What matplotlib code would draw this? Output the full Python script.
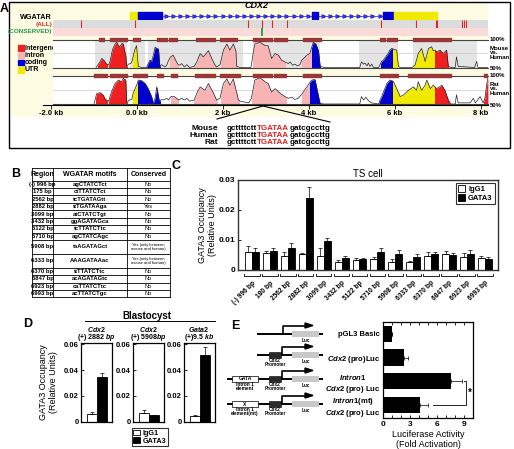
import numpy as np
import matplotlib
matplotlib.use("Agg")
import matplotlib.pyplot as plt
from matplotlib.patches import Rectangle, Polygon

plt.rcParams['font.family'] = ['Liberation Sans', 'DejaVu Sans']
plt.rcParams['font.weight'] = 'bold'
plt.rcParams['mathtext.fontset'] = 'custom'
plt.rcParams['mathtext.it'] = 'Liberation Sans:italic:bold'
plt.rcParams['mathtext.rm'] = 'Liberation Sans:bold'

# ---------------- A: VISTA plot ----------------
# mouse vs human conservation (kb, % identity)
mh_kb = [-0.95, -0.88, -0.82, -0.77, -0.74, -0.71, -0.66, -0.63, -0.57, -0.51, -0.47, -0.43, -0.40, -0.35,
         -0.32, -0.26, -0.24, -0.20, -0.15, -0.12, -0.05, -0.01, 0.03, 0.10, 0.22, 0.26, 0.30, 0.34, 0.38,
         0.42, 0.47, 0.50, 0.53, 0.57, 0.65, 0.69, 0.73, 0.78, 0.84, 0.88, 0.92, 0.96, 1.00, 1.04, 1.10,
         1.16, 1.22, 1.33, 1.39, 1.47, 1.54, 1.60, 1.66, 1.74, 1.81, 1.85, 1.93, 2.01, 2.09, 2.16, 2.24,
         2.30, 2.32, 2.40, 2.65, 2.71, 2.74, 2.86, 2.98, 3.05, 3.13, 3.21, 3.29, 3.36, 3.44, 3.52, 3.56,
         3.62, 3.67, 3.73, 3.79, 3.83, 3.95, 4.02, 4.10, 4.16, 4.22, 4.26, 4.35, 5.18, 5.22, 5.27, 5.30,
         5.35, 5.38, 5.42, 5.46, 5.50, 5.62, 5.69, 5.73, 5.81, 5.84, 5.88, 5.92, 5.96, 6.04, 6.08, 6.12,
         6.40, 6.47, 6.54, 6.62, 6.70, 6.78, 6.85, 6.89, 6.93, 6.97, 7.05, 7.12, 7.20, 7.24, 7.30, 7.40,
         7.43, 7.47, 7.85, 7.90, 7.93, 8.16]
mh_pct = [50, 58, 66, 63, 60, 56, 55, 60, 82, 92, 95, 89, 87, 93,
          92, 70, 52, 56, 57, 60, 82, 89, 52, 50, 50, 57, 63, 61, 72,
          86, 84, 83, 52, 55, 51, 54, 62, 69, 72, 66, 60, 55, 54, 57, 51,
          55, 50, 52, 60, 75, 69, 74, 80, 66, 55, 51, 55, 81, 92, 81, 92,
          80, 52, 50, 50, 80, 92, 95, 89, 89, 66, 75, 72, 63, 60, 57, 60,
          54, 56, 53, 55, 63, 72, 75, 95, 92, 80, 52, 50, 50, 60, 56, 58,
          53, 58, 52, 56, 50, 50, 61, 63, 72, 75, 81, 84, 83, 81, 52, 50,
          50, 55, 75, 84, 61, 84, 87, 80, 81, 78, 81, 75, 81, 52, 50, 50,
          69, 52, 50, 61, 50, 50]
mh_regions = [(-0.90, -0.70, 'intergene'), (-0.64, -0.24, 'intergene'), (-0.10, 0.02, 'UTR'),
              (0.24, 0.53, 'coding'), (0.76, 0.95, 'intron'), (1.33, 1.83, 'intron'),
              (1.95, 2.32, 'intron'), (2.70, 3.45, 'intron'), (3.83, 4.08, 'intron'),
              (4.08, 4.26, 'coding'), (5.67, 5.96, 'coding'), (5.96, 6.08, 'UTR'),
              (6.45, 6.93, 'UTR'), (6.93, 7.24, 'intergene')]
mh_shaded = [(-0.98, -0.23), (-0.16, 0.19), (0.26, 2.47), (2.70, 4.26), (5.16, 6.07), (6.42, 7.90)]
mh_cns = [(-0.88, -0.77), (-0.63, -0.23), (-0.09, 0.07), (0.47, 0.70), (0.74, 0.93), (1.37, 1.81),
          (1.93, 2.33), (2.70, 3.14), (3.19, 3.49), (3.86, 4.28), (5.65, 5.77), (5.81, 6.05), (6.42, 7.30)]

# rat vs human conservation
rh_kb = [-1.00, -0.94, -0.86, -0.79, -0.74, -0.71, -0.66, -0.59, -0.51, -0.43, -0.36, -0.32, -0.26, -0.24,
         -0.18, -0.12, -0.09, -0.01, 0.03, 0.11, 0.19, 0.26, 0.34, 0.38, 0.42, 0.46, 0.52, 0.57, 0.62,
         0.69, 0.73, 0.79, 0.87, 0.92, 0.97, 1.04, 1.10, 1.16, 1.22, 1.33, 1.39, 1.47, 1.58, 1.66, 1.78,
         1.85, 1.93, 2.01, 2.09, 2.16, 2.24, 2.36, 2.40, 2.60, 2.66, 2.74, 2.86, 2.98, 3.05, 3.13, 3.21,
         3.33, 3.44, 3.52, 3.60, 3.67, 3.75, 3.83, 3.95, 4.06, 4.14, 4.24, 4.26, 4.35, 5.18, 5.22, 5.27,
         5.32, 5.38, 5.45, 5.62, 5.65, 5.69, 5.81, 5.88, 5.96, 6.04, 6.12, 6.20, 6.31, 6.43, 6.50, 6.54,
         6.62, 6.70, 6.74, 6.82, 6.89, 6.97, 7.09, 7.16, 7.24, 7.30, 7.40, 7.43, 7.47, 7.75, 7.82, 7.87,
         7.98, 8.05, 8.09, 8.14, 8.16]
rh_pct = [50, 68, 70, 66, 59, 57, 55, 72, 86, 92, 89, 95, 92, 52,
          57, 58, 69, 83, 92, 91, 86, 77, 63, 51, 60, 80, 55, 58, 57,
          60, 57, 63, 63, 60, 57, 60, 57, 60, 55, 57, 69, 80, 74, 86, 69,
          57, 60, 86, 94, 83, 94, 57, 55, 52, 60, 92, 96, 89, 86, 71, 77,
          69, 63, 60, 62, 58, 60, 67, 80, 92, 93, 57, 51, 50, 50, 63, 57,
          62, 56, 52, 50, 57, 63, 86, 92, 90, 77, 63, 66, 74, 80, 74, 89,
          74, 83, 92, 77, 83, 77, 83, 74, 57, 50, 50, 66, 52, 52, 60, 52,
          63, 52, 60, 88, 95]
rh_regions = [(-0.96, -0.70, 'intergene'), (-0.64, -0.24, 'intergene'), (-0.10, 0.02, 'UTR'),
              (0.02, 0.38, 'coding'), (0.40, 0.53, 'coding'), (0.78, 0.95, 'intron'),
              (1.33, 1.85, 'intron'), (1.95, 2.38, 'intron'), (2.68, 3.47, 'intron'),
              (3.83, 4.03, 'intron'), (4.03, 4.26, 'coding'), (5.63, 5.96, 'coding'),
              (5.96, 6.93, 'UTR'), (6.93, 7.26, 'intergene'), (8.07, 8.17, 'intergene')]
rh_cns = [(-0.99, -0.70), (-0.63, -0.23), (-0.09, 0.23), (0.47, 0.60), (0.79, 0.93), (1.35, 1.81),
          (1.93, 2.40), (2.70, 3.14), (3.19, 3.47), (3.86, 4.28), (5.65, 5.77), (5.79, 6.07),
          (6.30, 7.30), (8.07, 8.14)]

gata_all = [-1.30, -0.05, 2.59, 2.90, 3.13, 3.48, 5.67, 6.48, 6.95, 6.98, 7.55, 7.60, 7.64]
gata_conserved = [2.90]
exons = [(-0.16, 0.03, 'UTR'), (0.03, 0.57, 'coding'), (4.06, 4.22, 'coding'),
         (5.71, 5.98, 'coding'), (5.98, 6.97, 'UTR')]
introns = [(0.57, 4.06), (4.22, 5.71)]
kb_ticks = [-2, 0, 2, 4, 6, 8]
kb_labels = ['-2.0 kb', '0.0 kb', '2 kb', '4 kb', '6 kb', '8 kb']
region_colors = {'intergene': '#ee2020', 'intron': '#f8b4b4', 'coding': '#0000d0', 'UTR': '#f0ea00'}

species = ['Mouse', 'Human', 'Rat']
seq_left, seq_site, seq_right = 'gcttttctt', 'TGATAA', 'gatcgccttg'

# ---------------- B: table ----------------
tab_region = ['(-) 996 bp', '175 bp', '2562 bp', '2882 bp', '3099 bp', '3432 bp', '5122 bp',
              '5710 bp', '5908 bp', '6333 bp', '6370 bp', '6847 bp', '6923 bp', '6993 bp']
tab_motif = ['agCTATCTct', 'ctTTATCTct', 'tcTGATAGtt', 'ttTGATAAga', 'atCTATCTgt', 'ggAGATAGca',
             'tcTTATCTtc', 'agCTATCAgc', 'taAGATAGct', 'AAAGATAAac', 'ttTTATCTtc', 'acAGATAGtc',
             'caTTATCTtc', 'acTTATCTgc']
tab_cons = ['No', 'No', 'No', 'Yes', 'No', 'No', 'No', 'No',
            'Yes (only between\nmouse and human)', 'Yes (only between\nmouse and human)',
            'No', 'No', 'No', 'No']

# ---------------- C: TS cell ChIP ----------------
c_sites = ['(-) 996 bp', '180 bp', '2562 bp', '2882 bp', '3099 bp', '3432 bp', '5122 bp',
           '5710 bp', '5908 bp', '6333 bp', '6370 bp', '6847 bp', '6923 bp', '6993 bp']
c_igg = [0.0061, 0.0056, 0.0047, 0.0055, 0.0047, 0.0028, 0.0033, 0.0037, 0.0028, 0.0026, 0.0047, 0.0052, 0.0044, 0.0041]
c_igg_err = [0.0019, 0.0009, 0.0014, 0.0003, 0.0025, 0.0005, 0.0006, 0.0008, 0.0008, 0.0004, 0.0014, 0.0012, 0.0013, 0.0006]
c_gata = [0.0060, 0.0063, 0.0072, 0.0241, 0.0097, 0.0039, 0.0037, 0.0061, 0.0055, 0.0044, 0.0053, 0.0050, 0.0055, 0.0038]
c_gata_err = [0.0012, 0.0012, 0.0017, 0.0037, 0.0011, 0.0008, 0.0004, 0.0011, 0.0011, 0.0008, 0.0008, 0.0008, 0.0011, 0.0007]

# ---------------- D: blastocyst ChIP ----------------
d_titles = [(r'$\it{Cdx2}$', r'$\it{(+)\ 2882\ bp}$'), (r'$\it{Cdx2}$', r'$\it{(+)\ 5908bp}$'),
            (r'$\it{Gata2}$', r'$\it{(+)9.5\ kb}$')]
d_igg = [0.0055, 0.0066, 0.0042]
d_igg_err = [0.0017, 0.0020, 0.0008]
d_gata = [0.0345, 0.0047, 0.0520]
d_gata_err = [0.0035, 0.0007, 0.0060]

# ---------------- E: luciferase ----------------
e_labels = ['pGL3 Basic', r'$\it{Cdx2}$ (pro)Luc', r'$\it{Intron1}$' + '\n' + r'$\it{Cdx2}$ (pro) Luc',
            r'$\it{Intron1}$(mt)' + '\n' + r'$\it{Cdx2}$ (pro) Luc']
e_val = [1.0, 2.35, 7.6, 4.1]
e_err = [0.0, 0.4, 1.2, 0.9]

# ================================================================
W, H = 514, 449
fig = plt.figure(figsize=(W / 100, H / 100), dpi=100)


def box_axes(x0, y0, x1, y1, **kw):
    return fig.add_axes([x0 / W, 1 - y1 / H, (x1 - x0) / W, (y1 - y0) / H], **kw)


ov = box_axes(0, 0, W, H)
ov.set_xlim(0, W)
ov.set_ylim(H, 0)
ov.axis('off')

# panel letters
for lab, (lx, ly) in zip('ABCDE', [(4, 9), (16, 174), (176, 166), (28, 324), (235, 326)]):
    ov.text(lx, ly, lab, fontsize=9, ha='center', va='center')

# ---- A frame ----
ov.add_patch(Rectangle((11, 3), 477, 114, fc='#fdfbe2', ec='none'))
ov.add_patch(Rectangle((9, 1.5), 501, 146.5, fill=False, ec='black', lw=1))

PX0, PXK = 137, 43.0
track_lim = ((53 - PX0) / PXK, (488 - PX0) / PXK)


def strip_axes(y0, y1, fc):
    a = box_axes(53, y0, 488, y1, facecolor=fc)
    a.set_xlim(*track_lim)
    a.set_ylim(0, 1)
    a.set_xticks([])
    a.set_yticks([])
    for s in a.spines.values():
        s.set_visible(False)
    return a


# gene model
axg = strip_axes(10, 21, 'none')
for s, e, kind in exons:
    axg.broken_barh([(s, e - s)], (0.15, 0.7), color=region_colors[kind], zorder=3)
for s, e in introns:
    axg.plot([s, e], [0.5, 0.5], color='#3333dd', lw=0.6)
    chev = np.arange(s + 0.1, e - 0.05, 0.165)
    axg.plot(chev, np.full(len(chev), 0.5), ls='none', marker=r'$>$', ms=2.2, color='#3333dd')
ov.text(257, 6, 'CDX2', fontsize=6.5, style='italic', ha='center', va='center')

# motif strips
axall = strip_axes(20, 28, '#dcdcdc')
axall.vlines(gata_all, 0, 1, color='#e02828', lw=0.8)
axcon = strip_axes(28, 36, '#fbdada')
axcon.vlines(gata_conserved, 0, 1, color='#1f9e45', lw=1.3)
ov.text(52, 17.5, 'WGATAR', fontsize=5.2, ha='right', va='center')
ov.text(52, 24.5, '(ALL)', fontsize=4.6, ha='right', va='center', color='#e02828')
ov.text(52, 32, '(CONSERVED)', fontsize=4.6, ha='right', va='center', color='#1f9e45')


def vista_track(y0, y1, kb, pct, regions, cns, shaded):
    a = box_axes(53, y0, 488, y1, facecolor='white')
    a.set_xlim(*track_lim)
    a.set_ylim(50, 100)
    a.set_xticks([])
    a.set_yticks([])
    for side in ('left', 'right'):
        a.spines[side].set_visible(False)
    for side in ('top', 'bottom'):
        a.spines[side].set_color('#444444')
        a.spines[side].set_linewidth(0.8)
    for s, e in shaded:
        a.axvspan(s, e, color='#e4e4e4', lw=0, zorder=0)
    a.axhline(75, color='#c8c8c8', lw=0.5, zorder=0.5)
    for s, e, kind in regions:
        f = a.fill_between(kb, 50, pct, color=region_colors[kind], lw=0, zorder=1)
        f.set_clip_path(Rectangle((s, 40), e - s, 70, transform=a.transData))
    a.plot(kb, pct, color='#222222', lw=0.5, zorder=2)
    a.broken_barh([(s, e - s) for s, e in cns], (97.3, 5.4), color='#983838', clip_on=False, zorder=3)
    return a


vista_track(39.5, 67.5, mh_kb, mh_pct, mh_regions, mh_cns, mh_shaded)
vista_track(75.5, 104, rh_kb, rh_pct, rh_regions, rh_cns, [])

axkb = box_axes(43, 95, 488, 104.5, facecolor='none')
axkb.set_xlim((43 - PX0) / PXK, (488 - PX0) / PXK)
for side in ('left', 'right', 'top'):
    axkb.spines[side].set_visible(False)
axkb.spines['bottom'].set_linewidth(0.8)
axkb.set_yticks([])
axkb.set_xticks(kb_ticks)
axkb.set_xticklabels(kb_labels, fontsize=5.5)
axkb.tick_params(axis='x', direction='out', length=3, width=0.6, pad=1)

for y, t in [(39.5, '100%'), (53, 'Mouse\nvs.\nHuman'), (68, '50%'),
             (75.5, '100%'), (89, 'Rat\nvs.\nHuman'), (105.5, '50%')]:
    ov.text(489.5, y, t, fontsize=4.3, ha='left', va='center', linespacing=0.9)

# legend
for i, (kind, name) in enumerate([('intergene', 'intergene'), ('intron', 'intron'),
                                  ('coding', 'coding'), ('UTR', 'UTR')]):
    yy = 48 + 7.3 * i
    ov.add_patch(Rectangle((18, yy - 2.6), 5.5, 5.2, color=region_colors[kind]))
    ov.text(24.5, yy, name, fontsize=5, va='center', ha='left')

# zoom lines and sequences
ov.plot([217, 263, 330], [119, 106, 122], color='black', lw=0.8)
for i, sp in enumerate(species):
    yy = 128 + 7.5 * i
    ov.text(218, yy, sp, fontsize=6, ha='right', va='center')
    t1 = ov.text(227, yy, seq_left, fontsize=5.8, ha='left', va='center')
    t2 = ov.annotate(seq_site, xy=(1, 0), xycoords=t1, fontsize=5.8, ha='left', va='bottom',
                     color='#e02020')
    ov.annotate(seq_right, xy=(1, 0), xycoords=t2, fontsize=5.8, ha='left', va='bottom')

# ---- B: table ----
cols = [32, 53, 127, 170]
y = 168.0
rows = [('Region', 'WGATAR motifs', 'Conserved', 12.5)]
for r, m, c in zip(tab_region, tab_motif, tab_cons):
    rows.append((r, m, c, 13.8 if '\n' in c else 7.45))
for k, (r, m, c, h) in enumerate(rows):
    cy = y + h / 2
    if k == 0:
        for j, t in enumerate((r, m, c)):
            ov.text((cols[j] + cols[j + 1]) / 2, cy, t, fontsize=5, ha='center', va='center')
    else:
        ov.text((cols[0] + cols[1]) / 2, cy, r, fontsize=4.2, ha='center', va='center')
        ov.text((cols[1] + cols[2]) / 2, cy, m, fontsize=4.2, ha='center', va='center')
        ov.text((cols[2] + cols[3]) / 2, cy, c, fontsize=2.9 if '\n' in c else 4.0, ha='center',
                va='center', fontweight='normal', linespacing=1.0)
    ov.plot([cols[0], cols[-1]], [y, y], color='black', lw=0.6)
    y += h
ov.plot([cols[0], cols[-1]], [y, y], color='black', lw=0.6)
for cx in cols:
    ov.plot([cx, cx], [168, y], color='black', lw=0.6)

# ---- C ----
axC = box_axes(238, 180, 498, 270)
n = len(c_sites)
xc = np.arange(n)
bw = 0.39
axC.bar(xc - bw / 2, c_igg, bw, color='white', edgecolor='black', lw=0.6, label='IgG1')
axC.bar(xc + bw / 2, c_gata, bw, color='black', edgecolor='black', lw=0.6, label='GATA3')
axC.errorbar(xc - bw / 2, c_igg, yerr=[np.zeros(n), c_igg_err], fmt='none', ecolor='black',
             elinewidth=0.5, capsize=1.2, capthick=0.5)
axC.errorbar(xc + bw / 2, c_gata, yerr=[np.zeros(n), c_gata_err], fmt='none', ecolor='black',
             elinewidth=0.5, capsize=1.2, capthick=0.5)
axC.set_xlim(-0.78, n - 0.27)
axC.set_ylim(0, 0.03)
axC.set_yticks([0, 0.01, 0.02, 0.03])
axC.set_yticklabels(['0', '0.01', '0.02', '0.03'], fontsize=6)
axC.tick_params(axis='y', direction='in', length=2.5, width=0.6, pad=2)
axC.set_xticks(xc)
axC.set_xticklabels(c_sites, fontsize=4.8, rotation=45, ha='right', rotation_mode='anchor')
axC.tick_params(axis='x', length=0, pad=7)
for i in xc:
    axC.plot([i - 0.43, i - 0.43, i + 0.43, i + 0.43], [-0.0013, -0.0020, -0.0020, -0.0013],
             color='black', lw=0.6, clip_on=False)
for s in axC.spines.values():
    s.set_linewidth(1.0)
    s.set_color('#333333')
axC.set_title('TS cell', fontsize=7, pad=2)
axC.set_ylabel('GATA3 Occupancy\n(Relative Units)', fontsize=6.5, linespacing=1.1)
axC.yaxis.set_label_coords(-0.08, 0.5)
axC.legend(loc='upper right', fontsize=5.5, frameon=True, fancybox=False, edgecolor='black',
           handlelength=0.9, handleheight=0.9, borderpad=0.3, labelspacing=0.15,
           handletextpad=0.4, borderaxespad=0.4).get_frame().set_linewidth(0.8)

# ---- D ----
ov.text(147, 316, 'Blastocyst', fontsize=7, ha='center', va='center')
ov.plot([85, 215], [321, 321], color='black', lw=0.7)
d_left = [81, 133, 184]
for k in range(3):
    a = box_axes(d_left[k], 343, d_left[k] + 30.5, 421.5)
    a.bar([0], [d_igg[k]], 1, color='white', edgecolor='black', lw=0.6, label='IgG1')
    a.bar([1], [d_gata[k]], 1, color='black', edgecolor='black', lw=0.6, label='GATA3')
    a.errorbar([0, 1], [d_igg[k], d_gata[k]], yerr=[[0, 0], [d_igg_err[k], d_gata_err[k]]],
               fmt='none', ecolor='black', elinewidth=0.5, capsize=1.2, capthick=0.5)
    a.set_xlim(-1.1, 2.0)
    a.set_ylim(0, 0.061)
    a.set_xticks([])
    a.set_yticks([0, 0.02, 0.04, 0.06])
    a.set_yticklabels(['0', '0.02', '0.04', '0.06'], fontsize=5.5)
    a.tick_params(axis='y', direction='in', length=2, width=0.6, pad=1.5)
    for s in a.spines.values():
        s.set_linewidth(0.9)
    cx = d_left[k] + 15
    ov.text(cx, 329, d_titles[k][0], fontsize=5, ha='center', va='center')
    ov.text(cx, 337.5, d_titles[k][1], fontsize=5, ha='center', va='center')
    if k == 0:
        a.set_ylabel('GATA3 Occupancy\n(Relative Units)', fontsize=6.5, linespacing=1.1)
        a.yaxis.set_label_coords(-0.75, 0.5)
    if k == 1:
        a.legend(loc='upper center', bbox_to_anchor=(0.55, -0.04), fontsize=5.2, frameon=True,
                 fancybox=False, edgecolor='black', handlelength=0.9, handleheight=0.8,
                 borderpad=0.2, labelspacing=0.05, handletextpad=0.4).get_frame().set_linewidth(0.8)


# ---- E: constructs ----
def construct(yy, element=None, element_label=None, promoter=True):
    x_start = 228 if element else 258
    ov.plot([x_start, 322], [yy, yy], color='black', lw=1.4, zorder=1)
    if element:
        ov.add_patch(Rectangle((232, yy - 3.3), 26, 6.6, fc='white', ec='black', lw=0.5, zorder=2))
        ov.text(245, yy, element, fontsize=3.6, ha='center', va='center', zorder=3)
        ov.text(245, yy + 7.5, element_label, fontsize=3.4, ha='center', va='center', linespacing=0.9)
    ax_x = 283
    if promoter:
        ov.add_patch(Rectangle((269, yy - 3.3), 12, 6.6, fc='#2a2a2a', ec='black', lw=0.4, zorder=2))
        ov.text(275, yy + 7.5, 'Cdx2\nPromoter', fontsize=3.4, ha='center', va='center', linespacing=0.9)
        ax_x = 282
    ov.add_patch(Rectangle((292, yy - 3), 27, 6, fc='#c8c8c8', ec='none', zorder=2))
    ov.text(305.5, yy + 6.5, 'Luc', fontsize=3.4, ha='center', va='center')
    ov.plot([ax_x, ax_x, 306], [yy, yy - 8.5, yy - 8.5], color='black', lw=1.2, zorder=3)
    ov.add_patch(Polygon([[305, yy - 11], [313, yy - 8.5], [305, yy - 6]], color='black', zorder=3))


construct(334, promoter=False)
construct(355)
construct(379, 'GATA', 'Intron 1\nelement')
construct(404, 'X', 'Intron 1\nelement(mt)')

axE = box_axes(383, 322, 473, 418)
ye = np.arange(len(e_val))
axE.barh(ye, e_val, 0.68, color='black', xerr=[np.zeros(len(e_val)), e_err],
         error_kw=dict(elinewidth=0.5, capsize=1.2, capthick=0.5, ecolor='black'))
axE.set_xlim(0, 10)
axE.set_ylim(len(e_val) - 0.45, -0.5)
axE.set_xticks([0, 3, 6, 9])
axE.set_xticklabels(['0', '3', '6', '9'], fontsize=6)
axE.set_xticks(np.arange(0, 11, 1), minor=True)
axE.tick_params(axis='x', which='both', direction='in', top=True, length=2, width=0.6, pad=2)
axE.set_yticks(ye)
axE.set_yticklabels(e_labels, fontsize=5.5, multialignment='center')
axE.tick_params(axis='y', length=0, pad=2)
for s in axE.spines.values():
    s.set_linewidth(0.9)
axE.plot([9.0, 9.25, 9.25, 5.5], [2, 2, 3, 3], color='black', lw=0.6)
axE.text(9.65, 2.5, '*', fontsize=7, ha='center', va='center')
axE.set_xlabel('Luciferase Activity\n(Fold Activation)', fontsize=6.5, labelpad=1.5, linespacing=1.1)

fig.savefig('out.png', dpi=100)
